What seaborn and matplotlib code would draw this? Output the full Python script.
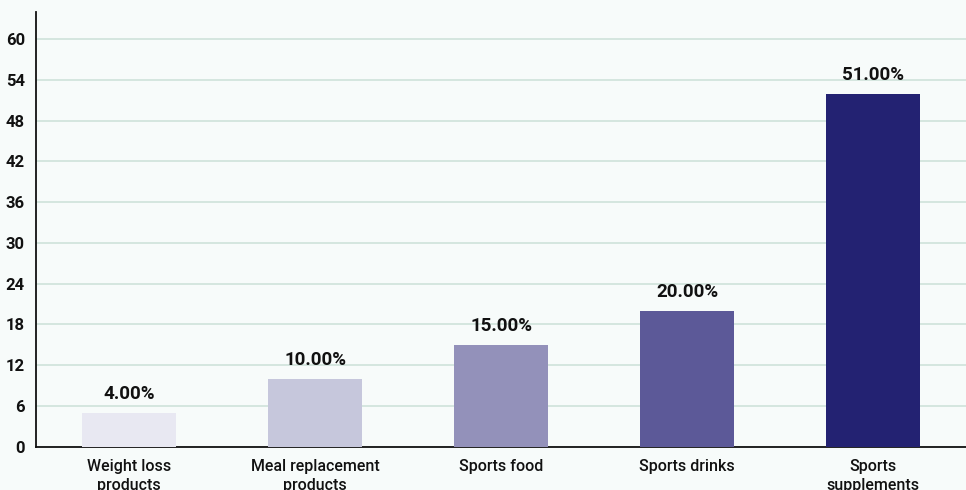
import seaborn as sns
import matplotlib.pyplot as plt
import pandas as pd

categories = ['Weight loss\nproducts', 'Meal replacement\nproducts', 'Sports food',
              'Sports drinks', 'Sports\nsupplements']
values = [5, 10, 15, 20, 52]
labels = ['4.00%', '10.00%', '15.00%', '20.00%', '51.00%']
colors = ['#e8e8f2', '#c6c7dc', '#9391ba', '#5c5998', '#232272']
yticks = [0, 6, 12, 18, 24, 30, 36, 42, 48, 54, 60]

df = pd.DataFrame({'cat': categories, 'val': values})

sns.set_style('white')
plt.rcParams['font.family'] = ['Roboto', 'DejaVu Sans']

fig = plt.figure(figsize=(9.66, 4.9), dpi=100)
fig.patch.set_facecolor('#f7fbfa')
ax = fig.add_axes([0.0373, 0.0884, 0.9627, 0.8871])
ax.set_facecolor('#f7fbfa')

sns.barplot(data=df, x='cat', y='val', hue='cat', palette=colors, legend=False,
            width=0.51, saturation=1, linewidth=0, ax=ax, zorder=3)

for cont, lab in zip(ax.containers, labels):
    ax.bar_label(cont, labels=[lab], padding=7, fontsize=13.5, fontweight='bold', color='#111111')

ax.set_ylim(0, 64)
ax.set_xlim(-0.5, 4.5)
ax.set_yticks(yticks)
ax.yaxis.grid(True, color='#cfe2da', linewidth=1.2, zorder=0)
ax.set_axisbelow(True)
ax.set_xlabel('')
ax.set_ylabel('')

for s in ['top', 'right']:
    ax.spines[s].set_visible(False)
for s in ['left', 'bottom']:
    ax.spines[s].set_color('#111111')
    ax.spines[s].set_linewidth(1.3)

ax.tick_params(axis='y', length=0, pad=8, labelsize=12)
ax.tick_params(axis='x', length=0, pad=9, labelsize=11.5)
for t in ax.get_yticklabels():
    t.set_fontweight('bold')
    t.set_color('#111111')
for t in ax.get_xticklabels():
    t.set_fontweight('medium')
    t.set_color('#111111')
    t.set_linespacing(1.35)

fig.savefig('out.png', dpi=100, facecolor=fig.get_facecolor())
